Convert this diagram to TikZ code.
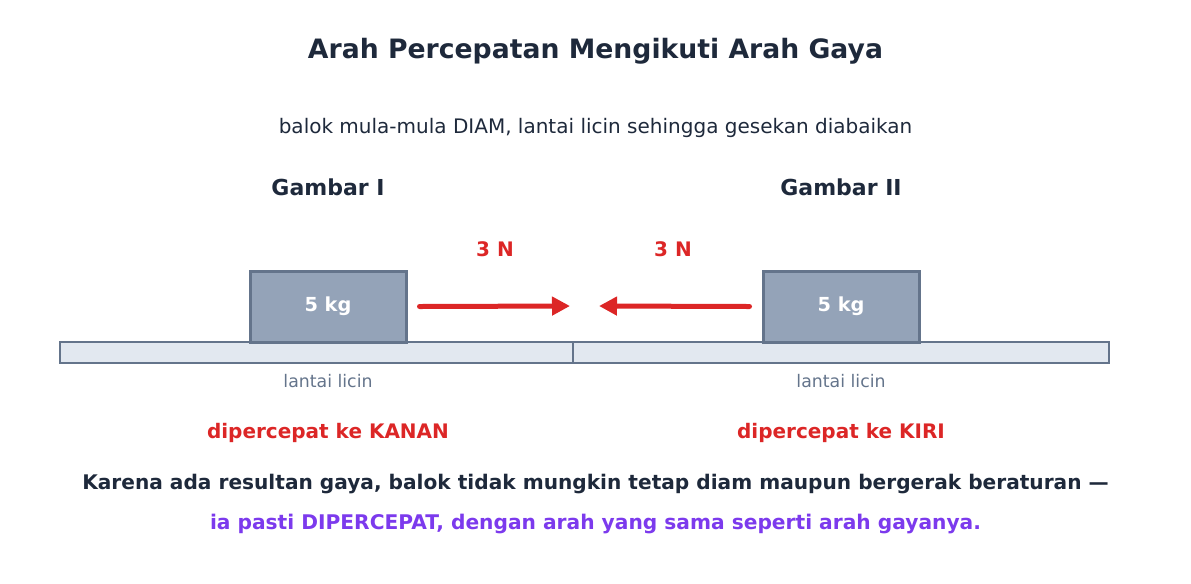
\documentclass[tikz,border=0pt]{standalone}
\usepackage{fontspec}
\setmainfont{DejaVu Sans}
\usetikzlibrary{arrows.meta}
\definecolor{judul}{HTML}{1E293B}
\definecolor{merah}{HTML}{DC2626}
\definecolor{ungu}{HTML}{7C3AED}
\definecolor{abu}{HTML}{64748B}
\definecolor{isibalok}{HTML}{94A3B8}
\definecolor{isilantai}{HTML}{E2E8F0}
\tikzset{every picture/.style={line width=0.75pt}}
\tikzset{
  balok/.style={draw=abu, fill=isibalok, line width=2.25pt, minimum width=117pt, minimum height=53.25pt, inner sep=0pt, text=white, font=\bfseries\fontsize{14.5}{17}\selectfont},
  lantai/.style={draw=abu, fill=isilantai, line width=1.5pt, minimum width=402pt, minimum height=15.75pt, inner sep=0pt},
  gaya/.style={draw=merah, line width=3.75pt, line cap=round, -{Triangle[length=13.5pt,width=13.5pt]}},
  teks/.style={inner sep=0pt, anchor=base}
}

\begin{document}
\begin{tikzpicture}[x=0.75pt,y=0.75pt,yscale=-1,xscale=1]
\useasboundingbox (0,0) rectangle (1191,583);

% Text Node
\node[teks, text=judul, font=\bfseries\fontsize{20}{24}\selectfont] (judul) at (595.5,58) {Arah Percepatan Mengikuti Arah Gaya};
% Text Node
\node[teks, text=judul, font=\fontsize{15}{18}\selectfont] (subjudul) at (595.5,133) {balok mula-mula DIAM, lantai licin sehingga gesekan diabaikan};
% Text Node
\node[teks, text=judul, font=\bfseries\fontsize{16.5}{20}\selectfont] (gambarI) at (328,195) {Gambar I};
\node[teks, text=judul, font=\bfseries\fontsize{16.5}{20}\selectfont] (gambarII) at (841,195) {Gambar II};

%Shape: Rectangle (lantai)
\node[lantai] (lantaiI) at (327.5,352.5) {};
\node[lantai] (lantaiII) at (841,352.5) {};

%Shape: Rectangle (balok)
\node[balok] (balokI) at (328,306.5) {5 kg};
\node[balok] (balokII) at (841,306.5) {5 kg};

%Straight Lines (gaya)
\coordinate (ujungI) at (570,306);
\coordinate (ujungII) at (599,306);
\draw[gaya] ([xshift=9pt]balokI.east) -- (ujungI);
\draw[gaya] ([xshift=-9pt]balokII.west) -- (ujungII);

% Text Node
\node[teks, text=merah, font=\bfseries\fontsize{15}{18}\selectfont] (gayaI) at (495,256) {3 N};
\node[teks, text=merah, font=\bfseries\fontsize{15}{18}\selectfont] (gayaII) at (673,256) {3 N};
% Text Node
\node[teks, text=abu, font=\fontsize{13}{16}\selectfont] (licinI) at (328,387) {lantai licin};
\node[teks, text=abu, font=\fontsize{13}{16}\selectfont] (licinII) at (841,387) {lantai licin};
% Text Node
\node[teks, text=merah, font=\bfseries\fontsize{15}{18}\selectfont] (hasilI) at (328,438) {dipercepat ke KANAN};
\node[teks, text=merah, font=\bfseries\fontsize{15}{18}\selectfont] (hasilII) at (841,438) {dipercepat ke KIRI};
% Text Node
\node[teks, text=judul, font=\bfseries\fontsize{15.1}{18}\selectfont] (simpulan) at (595.5,489) {Karena ada resultan gaya, balok tidak mungkin tetap diam maupun bergerak beraturan —};
\node[teks, text=ungu, font=\bfseries\fontsize{15.15}{18}\selectfont] (simpulanII) at (595.5,529) {ia pasti DIPERCEPAT, dengan arah yang sama seperti arah gayanya.};

\end{tikzpicture}
\end{document}
